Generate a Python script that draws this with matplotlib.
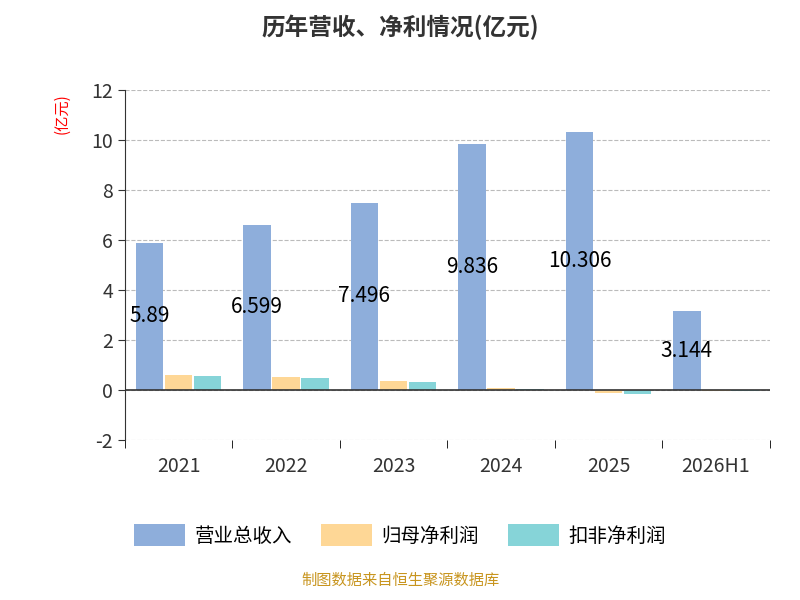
import numpy as np
import matplotlib.pyplot as plt

plt.rcParams['font.family'] = ['Noto Sans CJK SC', 'DejaVu Sans']
plt.rcParams['axes.unicode_minus'] = False

years = ["2021", "2022", "2023", "2024", "2025", "2026H1"]
revenue = [5.89, 6.599, 7.496, 9.836, 10.306, 3.144]
net_profit = [0.60, 0.52, 0.36, 0.08, -0.14, -0.04]
deducted_profit = [0.57, 0.47, 0.32, 0.04, -0.18, -0.05]

fig = plt.figure(figsize=(8, 6), dpi=100)
ax = fig.add_axes([0.156, 0.267, 0.806, 0.583])

x = np.arange(len(years))
w = 0.27
ax.bar(x - w, revenue, w * 0.95, color="#8eaedb", label="营业总收入")
ax.bar(x, net_profit, w * 0.95, color="#fed796", label="归母净利润")
ax.bar(x + w, deducted_profit, w * 0.95, color="#86d4d8", label="扣非净利润")
for i, v in enumerate(revenue):
    ax.text(x[i] - w, v / 2, f"{v:g}", ha="center", va="center", fontsize=15, color="black")

ax.set_xlim(-0.5, len(years) - 0.5)
ax.set_ylim(-2, 12)
ax.set_yticks(range(-2, 13, 2))
ax.set_xticks(x)
ax.set_xticklabels(years)
ax.tick_params(axis="both", labelsize=14, colors="#333333", length=5)
ax.set_xticks(np.arange(-0.5, len(years), 1), minor=True)
ax.tick_params(axis="x", which="major", length=0, pad=12)
ax.tick_params(axis="x", which="minor", length=6)
ax.grid(axis="y", linestyle="--", color="#bbbbbb")
ax.set_axisbelow(True)
for s in ["top", "right", "bottom"]:
    ax.spines[s].set_visible(False)
ax.spines["left"].set_color("#333333")
ax.axhline(0, color="#333333", lw=1.2)

fig.text(0.5, 0.955, "历年营收、净利情况(亿元)", ha="center", va="center", fontsize=17, fontweight="bold", color="#333333")
fig.text(0.078, 0.81, "(亿元)", rotation=90, ha="center", va="center", fontsize=11, color="red")
fig.legend(loc="center", bbox_to_anchor=(0.5, 0.108), ncol=3, frameon=False, fontsize=14,
           handlelength=2.6, handleheight=1.4, handletextpad=0.5, columnspacing=1.5)
fig.text(0.5, 0.018, "制图数据来自恒生聚源数据库", ha="center", va="bottom", fontsize=11, color="#c8951f")

fig.savefig("out.png")
